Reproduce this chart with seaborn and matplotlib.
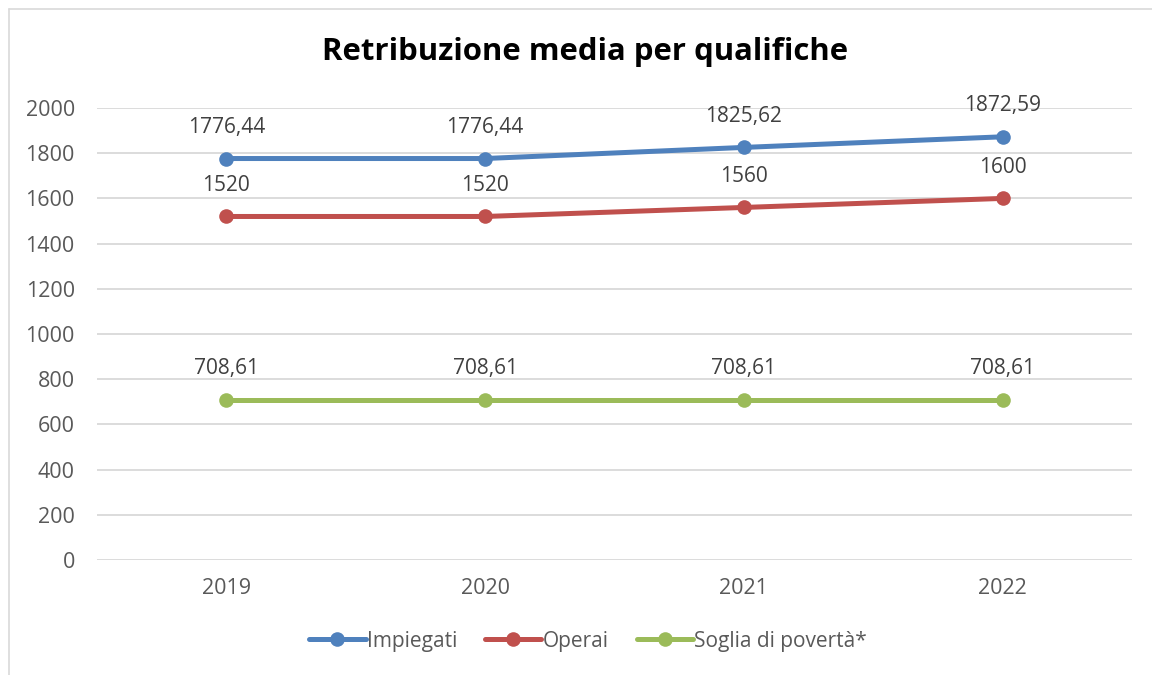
import matplotlib
matplotlib.use("Agg")
import matplotlib.pyplot as plt
import seaborn as sns
import pandas as pd
from matplotlib.lines import Line2D

years = ["2019", "2020", "2021", "2022"]
series_names = ["Impiegati", "Operai", "Soglia di povertà*"]
impiegati = [1776.44, 1776.44, 1825.62, 1872.59]
operai = [1520, 1520, 1560, 1600]
soglia = [708.61, 708.61, 708.61, 708.61]
y_ticks = [0, 200, 400, 600, 800, 1000, 1200, 1400, 1600, 1800, 2000]
title = "Retribuzione media per qualifiche"

colors = ["#4F81BD", "#C0504D", "#9BBB59"]

rows = []
for name, vals in zip(series_names, [impiegati, operai, soglia]):
    for i, (yr, v) in enumerate(zip(years, vals)):
        rows.append({"pos": i, "year": yr, "value": v, "serie": name})
df = pd.DataFrame(rows)

sns.set_theme(style="white")
plt.rcParams["font.family"] = ["Open Sans", "DejaVu Sans"]

fig = plt.figure(figsize=(11.52, 6.75), dpi=100)
ax = fig.add_axes([97/1152, 1-560/675, (1132-97)/1152, (560-108)/675])

sns.lineplot(data=df, x="pos", y="value", hue="serie", palette=colors,
             hue_order=series_names, marker="o", markersize=10.5,
             markeredgewidth=0, linewidth=3.6, ax=ax, legend=False)

def fmt(v):
    if float(v).is_integer():
        return str(int(v))
    return f"{v:.2f}".replace(".", ",")

for name, vals in zip(series_names, [impiegati, operai, soglia]):
    for i, v in enumerate(vals):
        ax.annotate(fmt(v), (i, v), xytext=(0, 22.5), textcoords="offset points",
                    ha="center", va="center", fontsize=15, color="#404040")

ax.set_xlim(-0.5, 3.5)
ax.set_ylim(0, 2000)
ax.set_yticks(y_ticks)
ax.set_yticklabels([str(t) for t in y_ticks])
ax.set_xticks(range(len(years)))
ax.set_xticklabels(years)
ax.tick_params(axis="both", labelsize=15.5, colors="#595959", length=0)
ax.tick_params(axis="y", pad=16)
ax.tick_params(axis="x", pad=13)
ax.yaxis.grid(True, color="#D9D9D9", linewidth=1.3)
ax.xaxis.grid(False)
for s in ax.spines.values():
    s.set_visible(False)
ax.set_xlabel("")
ax.set_ylabel("")
for lbl in ax.get_xticklabels() + ax.get_yticklabels():
    lbl.set_color("#595959")

fig.text(585/1152, 1-52/675, title, ha="center", va="center", fontsize=22.4,
         fontweight="bold", color="#000000")

handles = [Line2D([0], [0], color=c, linewidth=3.6, marker="o", markersize=10.5,
                  markeredgewidth=0) for c in colors]
fig.legend(handles, series_names, loc="center", bbox_to_anchor=(588/1152, 1-641/675),
           ncol=3, frameon=False, fontsize=15, handlelength=2.7,
           handletextpad=0.05, columnspacing=1.35, labelcolor="#595959")

# chart frame
fig.add_artist(Line2D([9/1152, 1.0], [1-9/675, 1-9/675], transform=fig.transFigure,
                      color="#D9D9D9", linewidth=1.2))
fig.add_artist(Line2D([9/1152, 9/1152], [0, 1-9/675], transform=fig.transFigure,
                      color="#D9D9D9", linewidth=1.2))

fig.savefig("out.png", dpi=100)
